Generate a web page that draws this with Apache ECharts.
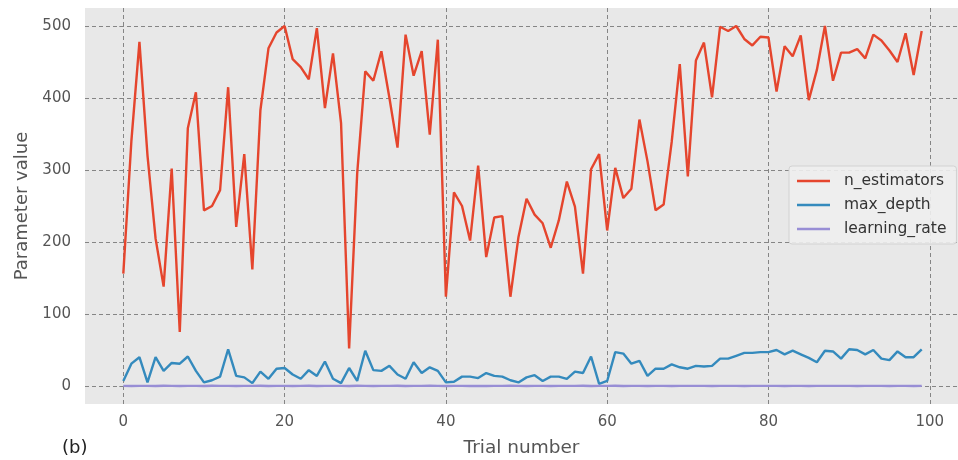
<!DOCTYPE html>
<html>
<head>
<meta charset="utf-8">
<title>Parameter values per trial</title>
<script src="https://cdn.jsdelivr.net/npm/echarts@6/dist/echarts.min.js"></script>
<style>
  html, body { margin: 0; padding: 0; background: #fff; }
  #main { width: 958px; height: 460px; }
</style>
</head>
<body>
<div id="main"></div>
<script>
// values, one per trial (0..99)
var nEstimators = [156,340,478,320,205,138,302,75,358,408,
  244,250,272,415,221,322,162,383,469,491,
  500,454,443,426,497,386,462,365,52,295,
  437,424,465,400,331,488,431,465,349,481,
  124,269,250,202,306,179,234,236,124,207,
  260,238,226,192,230,284,249,156,301,322,
  216,303,261,274,370,312,244,252,339,447,
  291,452,477,401,499,493,500,482,473,485,
  484,409,472,458,487,397,439,500,424,463,
  463,468,455,488,480,466,450,490,432,493];

var maxDepth = [7,31,40,5,40,21,32,31,41,21,
  5,8,13,51,14,12,4,20,10,24,
  25,16,10,22,14,34,10,4,25,7,
  49,22,21,28,16,10,33,18,26,21,
  5,6,13,13,11,18,14,13,8,5,
  12,15,7,13,13,10,20,18,41,3,
  7,47,45,31,35,14,24,24,30,26,
  24,28,27,28,38,38,42,46,46,47,
  47,50,44,49,44,39,33,49,48,38,
  51,50,44,50,38,36,48,40,40,51];

var learningRate = [0.12,0.05,0.21,0.18,0.09,0.27,0.14,0.03,0.22,0.16,
  0.08,0.25,0.11,0.19,0.06,0.24,0.13,0.29,0.10,0.17,
  0.20,0.07,0.15,0.26,0.04,0.23,0.12,0.18,0.09,0.28,
  0.16,0.05,0.21,0.13,0.25,0.08,0.19,0.11,0.27,0.14,
  0.06,0.22,0.17,0.10,0.24,0.03,0.20,0.15,0.26,0.12,
  0.09,0.18,0.23,0.07,0.16,0.21,0.11,0.25,0.05,0.19,
  0.14,0.28,0.10,0.17,0.22,0.08,0.13,0.24,0.06,0.20,
  0.15,0.11,0.18,0.09,0.16,0.12,0.14,0.10,0.13,0.15,
  0.11,0.17,0.09,0.12,0.14,0.10,0.16,0.13,0.11,0.15,
  0.12,0.10,0.14,0.11,0.13,0.09,0.12,0.15,0.10,0.12];

var xTicks = [0, 20, 40, 60, 80, 100];
var yTicks = [0, 100, 200, 300, 400, 500];

function pairs(vals) {
  return vals.map(function (v, i) { return [i, v]; });
}

var font = 'DejaVu Sans';
var gridLine = { color: '#858585', width: 1, type: [4, 3] };

var myChart = echarts.init(document.getElementById('main'));
myChart.setOption({
  animation: false,
  textStyle: { fontFamily: font },
  grid: {
    left: 85, right: 0, top: 8, bottom: 56,
    outerBoundsMode: 'none', containLabel: false,
    show: true, backgroundColor: '#e8e8e8', borderWidth: 0
  },
  legend: {
    orient: 'vertical',
    left: 789, top: 166,
    padding: [7, 10, 7, 8],
    itemWidth: 33, itemHeight: 2.5, itemGap: 8,
    icon: 'rect',
    backgroundColor: 'rgba(238,238,238,0.9)',
    borderColor: '#d2d2d2', borderWidth: 1, borderRadius: 3,
    textStyle: { fontFamily: font, fontSize: 15.5, color: '#333', lineHeight: 16, padding: [0, 0, 0, 9] },
    data: ['n_estimators', 'max_depth', 'learning_rate']
  },
  xAxis: {
    type: 'value',
    min: -4.75, max: 103.5,
    name: 'Trial number',
    nameLocation: 'middle', nameGap: 35,
    nameTextStyle: { fontFamily: font, fontSize: 18.5, color: '#555' },
    axisLine: { show: false },
    axisTick: { show: true, length: 7, customValues: xTicks, lineStyle: gridLine },
    axisLabel: { customValues: xTicks, margin: 11, fontSize: 15, color: '#555', fontFamily: font },
    splitLine: { show: true, lineStyle: gridLine }
  },
  yAxis: {
    type: 'value',
    min: -25, max: 525,
    name: 'Parameter value',
    nameLocation: 'middle', nameGap: 52,
    nameTextStyle: { fontFamily: font, fontSize: 18, color: '#555' },
    axisLine: { show: false },
    axisTick: { show: true, length: 7, customValues: yTicks, lineStyle: gridLine },
    axisLabel: { customValues: yTicks, margin: 14, fontSize: 15, color: '#555', fontFamily: font },
    splitLine: { show: true, lineStyle: gridLine }
  },
  graphic: [{
    type: 'text', left: 62, top: 439,
    style: { text: '(b)', fontFamily: font, fontSize: 18, fill: '#222' }
  }],
  series: [
    { name: 'n_estimators', type: 'line', data: pairs(nEstimators), showSymbol: false,
      color: '#E5452D', lineStyle: { width: 2.4 } },
    { name: 'max_depth', type: 'line', data: pairs(maxDepth), showSymbol: false,
      color: '#348ABD', lineStyle: { width: 2.4 } },
    { name: 'learning_rate', type: 'line', data: pairs(learningRate), showSymbol: false,
      color: '#988ED5', lineStyle: { width: 2.4 } }
  ]
});
</script>
</body>
</html>
